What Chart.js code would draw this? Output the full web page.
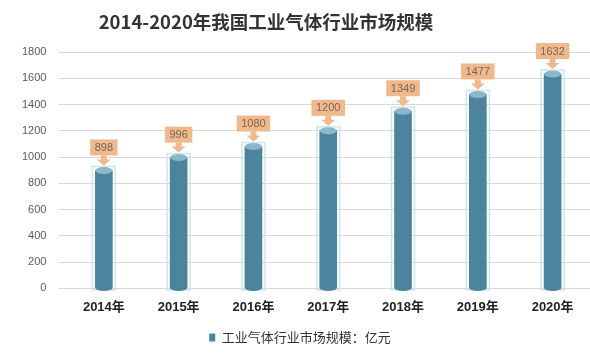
<!DOCTYPE html>
<html><head><meta charset="utf-8">
<script src="https://cdn.jsdelivr.net/npm/chart.js@4/dist/chart.umd.min.js"></script>
<style>html,body{margin:0;padding:0;background:#fff}#wrap{width:590px;height:356px}</style>
</head><body><div id="wrap"><canvas id="c"></canvas></div>
<script>
const categories = ['2014年','2015年','2016年','2017年','2018年','2019年','2020年'];
const marketSize = [898, 996, 1080, 1200, 1349, 1477, 1632];
const yTicks = [0,200,400,600,800,1000,1200,1400,1600,1800];
const seriesName = '工业气体行业市场规模：亿元';
const titleText = '2014-2020年我国工业气体行业市场规模';

const BAR = '#4c849d';
const titlePlugin = {
  id:'ttl',
  afterDraw(chart){
    const ctx = chart.ctx;
    ctx.save();
    ctx.font = 'bold 18.5px "Noto Sans CJK SC", sans-serif';
    ctx.fillStyle = '#333';
    ctx.textAlign = 'center';
    ctx.textBaseline = 'middle';
    ctx.fillText(titleText, 266, 22);
    ctx.restore();
  }
};
const cylinderPlugin = {
  id:'cyl',
  afterDatasetsDraw(chart){
    const ctx = chart.ctx;
    const meta = chart.getDatasetMeta(0);
    meta.data.forEach((bar,i)=>{
      const x = bar.x, y = bar.y, w = bar.width, base = bar.base;
      ctx.save();
      ctx.strokeStyle = 'rgba(200,226,240,0.9)';
      ctx.lineWidth = 1.5;
      ctx.strokeRect(x - w/2 - 3, y - 4, w + 6, base - y + 6);
      ctx.fillStyle = BAR;
      ctx.beginPath();
      ctx.ellipse(x, base, w/2, 3, 0, 0, Math.PI);
      ctx.fill();
      ctx.fillStyle = '#8db6c9';
      ctx.beginPath();
      ctx.ellipse(x, y, w/2, 3.5, 0, 0, Math.PI*2);
      ctx.fill();
      const txt = String(marketSize[i]);
      ctx.font = '11px "Liberation Sans", Arial, sans-serif';
      const tw = ctx.measureText(txt).width;
      const bw = tw + 9, bh = 16;
      const tip = y - 5;
      const boxBottom = tip - 10;
      ctx.fillStyle = '#f0b98c';
      ctx.fillRect(x - bw/2, boxBottom - bh, bw, bh);
      ctx.beginPath();
      ctx.moveTo(x - 3, boxBottom);
      ctx.lineTo(x + 3, boxBottom);
      ctx.lineTo(x + 3, boxBottom + 4);
      ctx.lineTo(x + 7, boxBottom + 4);
      ctx.lineTo(x, tip);
      ctx.lineTo(x - 7, boxBottom + 4);
      ctx.lineTo(x - 3, boxBottom + 4);
      ctx.closePath();
      ctx.fill();
      ctx.fillStyle = '#7b6657';
      ctx.textAlign = 'center';
      ctx.textBaseline = 'middle';
      ctx.fillText(txt, x, boxBottom - bh/2 + 0.5);
      ctx.restore();
    });
  }
};

new Chart(document.getElementById('c'), {
  type:'bar',
  data:{labels:categories, datasets:[{label:seriesName, data:marketSize, backgroundColor:BAR, borderWidth:0, barThickness:17}]},
  plugins:[cylinderPlugin, titlePlugin],
  options:{
    responsive:true, maintainAspectRatio:false, animation:false,
    layout:{padding:{left:10,right:0,top:52,bottom:2}},
    plugins:{
      title:{display:false},
      legend:{position:'bottom', labels:{color:'#333', boxWidth:6, boxHeight:8, padding:8, font:{size:13, family:'"Noto Sans CJK SC", sans-serif'}}},
      tooltip:{enabled:false}
    },
    scales:{
      x:{grid:{display:false}, border:{display:false},
         afterFit(axis){ axis.height += 5; },
         ticks:{color:'#222', padding:3, font:{size:13, weight:'bold', family:'"Liberation Sans", "Noto Sans CJK SC", sans-serif'}}},
      y:{min:0, max:1800, border:{display:false}, grid:{color:'#d9d9d9'},
         afterBuildTicks(axis){axis.ticks = yTicks.map(v=>({value:v}));},
         ticks:{color:'#595959', padding:12, callback:(v)=>String(v), font:{size:11, family:'"Liberation Sans", sans-serif'}}}
    }
  }
});
</script></body></html>
